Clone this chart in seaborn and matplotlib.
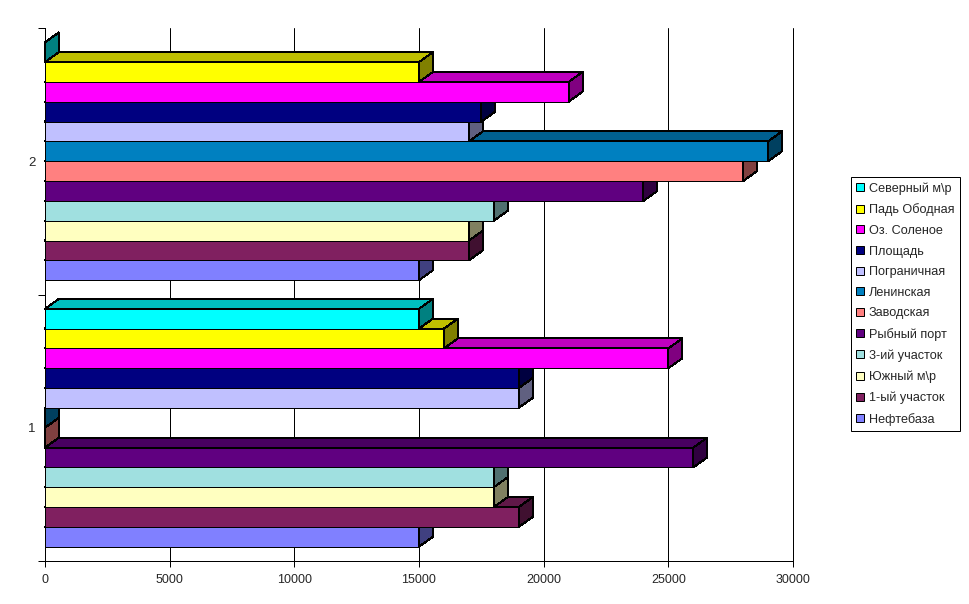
import matplotlib
matplotlib.use("Agg")
import matplotlib.pyplot as plt
from matplotlib.patches import Polygon
import pandas as pd
import seaborn as sns

# bottom to top, same order as the bars are stacked
places = ["Нефтебаза", "1-ый участок", "Южный м\\р", "3-ий участок", "Рыбный порт", "Заводская",
          "Ленинская", "Пограничная", "Площадь", "Оз. Соленое", "Падь Ободная", "Северный м\\р"]
values_1 = [15000, 19000, 18000, 18000, 26000, 0, 0, 19000, 19000, 25000, 16000, 15000]
values_2 = [15000, 17000, 17000, 18000, 24000, 28000, 29000, 17000, 17500, 21000, 15000, 0]
groups = ["1", "2"]
colors = ["#8080FF", "#802060", "#FFFFC0", "#A0E0E0", "#600080", "#FF8080",
          "#0080C0", "#C0C0FF", "#000080", "#FF00FF", "#FFFF00", "#00FFFF"]

W, H = 970, 604
LEFT, RIGHT, TOP, BOTTOM = 45, 793, 28, 561
DEPTH_X, DEPTH_Y = 14, 10  # px
LW = 0.72  # 1px

sns.set_style("white")
plt.rcParams["font.family"] = ["Liberation Sans", "DejaVu Sans"]

df = pd.DataFrame({
    "place": places * 2,
    "group": [groups[0]] * 12 + [groups[1]] * 12,
    "value": values_1 + values_2,
})

fig = plt.figure(figsize=(W / 100, H / 100), dpi=100)
ax = fig.add_axes([LEFT / W, 1 - BOTTOM / H, (RIGHT - LEFT) / W, (BOTTOM - TOP) / H])

sns.barplot(data=df, y="group", x="value", hue="place", order=groups, hue_order=places,
            palette=colors, saturation=1, width=0.893, gap=0, errorbar=None, orient="h",
            edgecolor="black", linewidth=LW, ax=ax)

ax.set_xlim(0, 30000)
ax.set_ylim(-0.5, 1.5)
dx = DEPTH_X * 30000 / (RIGHT - LEFT)
dy = DEPTH_Y * 2 / (BOTTOM - TOP)


def shade(color, k):
    r, g, b = matplotlib.colors.to_rgb(color)
    return (r * k, g * k, b * k)


# fake 3D: top and side faces built from the bars seaborn drew, upper bars cover lower ones
for i, container in enumerate(ax.containers):
    for bar in container:
        bar.set_zorder(3 + i)
        bar.set_antialiased(False)
        w, y, h = bar.get_width(), bar.get_y(), bar.get_height()
        top_face = [(0, y + h), (w, y + h), (w + dx, y + h + dy), (dx, y + h + dy)]
        side_face = [(w, y), (w, y + h), (w + dx, y + h + dy), (w + dx, y + dy)]
        ax.add_patch(Polygon(top_face, facecolor=shade(colors[i], 0.75), edgecolor="black",
                             linewidth=LW, zorder=3 + i, clip_on=False, antialiased=False))
        ax.add_patch(Polygon(side_face, facecolor=shade(colors[i], 0.5), edgecolor="black",
                             linewidth=LW, zorder=3 + i, clip_on=False, antialiased=False))

ax.set_xlabel("")
ax.set_ylabel("")
ax.set_xticks(range(0, 30001, 5000))
ax.set_yticks([-0.5, 0.5, 1.5])
ax.set_yticklabels([])
ax.set_yticks([0, 1], groups, minor=True)
ax.tick_params(axis="y", which="major", left=True, length=5, width=LW, color="black")
ax.tick_params(axis="y", which="minor", left=False, length=0, pad=7, labelsize=9.5)
ax.tick_params(axis="x", bottom=True, length=4, width=LW, color="black", labelsize=9, pad=5.5)

ax.grid(axis="x", color="black", linewidth=LW)
ax.set_axisbelow(True)
for line in ax.get_xgridlines():
    line.set_clip_on(False)
sns.despine(ax=ax, top=True, right=True)
for side in ["left", "bottom"]:
    ax.spines[side].set_color("black")
    ax.spines[side].set_linewidth(LW)

handles, labels = ax.get_legend_handles_labels()
ax.get_legend().remove()
leg = fig.legend(handles[::-1], labels[::-1], loc="upper left",
                 bbox_to_anchor=(851 / W, 1 - 177 / H), borderaxespad=0, fancybox=False,
                 edgecolor="black", framealpha=1, fontsize=9.1, handlelength=0.6, handleheight=0.6,
                 handletextpad=0.4, labelspacing=0.68, borderpad=0.42)
leg.get_frame().set_linewidth(LW)
for patch in leg.get_patches():
    patch.set_linewidth(LW)

fig.savefig("out.png", dpi=100)
